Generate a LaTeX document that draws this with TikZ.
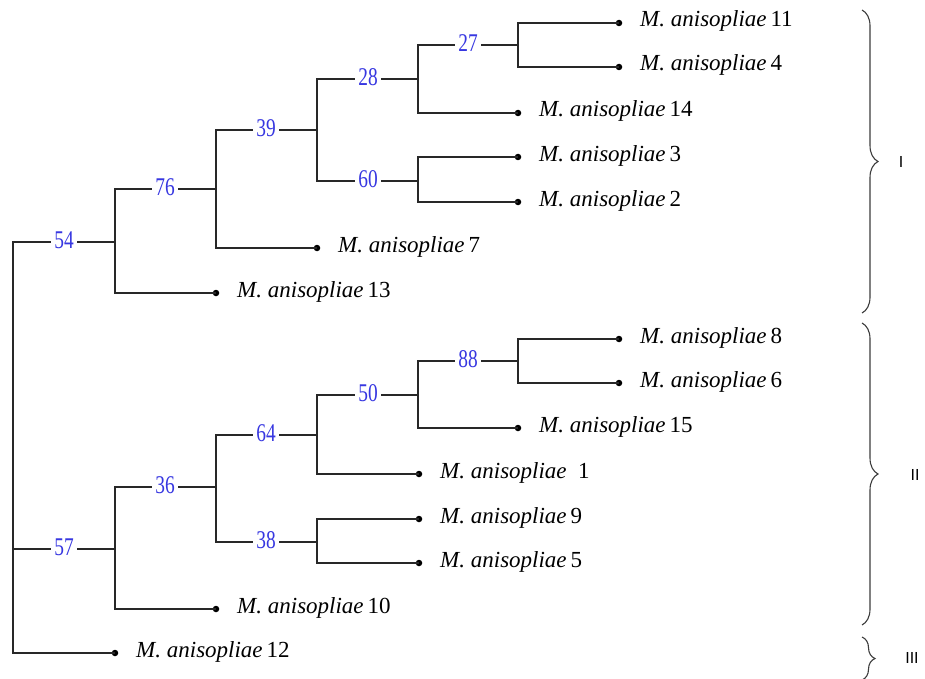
\documentclass[tikz,border=0pt]{standalone}
\usepackage{fontspec}
\setmainfont{Liberation Serif}
\newfontfamily\romfont{Liberation Sans}
\usetikzlibrary{decorations.pathreplacing}
\definecolor{treeline}{RGB}{40,40,40}
\definecolor{bootblue}{RGB}{55,55,225}
\definecolor{bracegray}{RGB}{60,60,60}
\newcommand\bootnum[1]{\scalebox{0.76}[1]{#1}}
\newcommand\leaftext[1]{\textit{M. anisopliae}\,#1}
\begin{document}
\begin{tikzpicture}[x=1pt,y=-1pt,
  branch/.style={draw=treeline, line width=1.8pt},
  tipdot/.style={circle, fill=black, inner sep=0pt, minimum size=6.5pt},
  leaflabel/.style={anchor=base west, inner sep=0pt, font=\fontsize{23}{27}\selectfont},
  boot/.style={fill=white, text=bootblue, inner xsep=3pt, inner ysep=1pt, font=\fontsize{25.5}{28}\selectfont},
  clade/.style={draw=bracegray, line width=1.1pt, decorate, decoration={brace, amplitude=#1}},
  cladelabel/.style={font=\romfont\fontsize{16}{18}\selectfont, text=black}
]
\useasboundingbox (0,0) rectangle (925,679);

% internal nodes
\coordinate (root) at (13,447);
\coordinate (n54) at (115,242);
\coordinate (n76) at (216,189);
\coordinate (n39) at (317,130);
\coordinate (n28) at (418,79);
\coordinate (n27) at (518,45);
\coordinate (n60) at (418,181);
\coordinate (n57) at (115,549);
\coordinate (n36) at (216,487);
\coordinate (n64) at (317,435);
\coordinate (n50) at (418,395);
\coordinate (n88) at (518,361);
\coordinate (n38) at (317,542);

% leaves
\node[tipdot] (l11) at (619,23) {};
\node[tipdot] (l4)  at (619,67) {};
\node[tipdot] (l14) at (518,113) {};
\node[tipdot] (l3)  at (518,157) {};
\node[tipdot] (l2)  at (518,202) {};
\node[tipdot] (l7)  at (317,248) {};
\node[tipdot] (l13) at (216,293) {};
\node[tipdot] (l8)  at (619,339) {};
\node[tipdot] (l6)  at (619,383) {};
\node[tipdot] (l15) at (518,428) {};
\node[tipdot] (l1)  at (419,474) {};
\node[tipdot] (l9)  at (419,519) {};
\node[tipdot] (l5)  at (419,563) {};
\node[tipdot] (l10) at (216,609) {};
\node[tipdot] (l12) at (115,653) {};

% branches
\draw[branch] (root) |- (n54);
\draw[branch] (root) |- (n57);
\draw[branch] (root) |- (l12.center);
\draw[branch] (n54) |- (n76);
\draw[branch] (n54) |- (l13.center);
\draw[branch] (n76) |- (n39);
\draw[branch] (n76) |- (l7.center);
\draw[branch] (n39) |- (n28);
\draw[branch] (n39) |- (n60);
\draw[branch] (n28) |- (n27);
\draw[branch] (n28) |- (l14.center);
\draw[branch] (n27) |- (l11.center);
\draw[branch] (n27) |- (l4.center);
\draw[branch] (n60) |- (l3.center);
\draw[branch] (n60) |- (l2.center);
\draw[branch] (n57) |- (n36);
\draw[branch] (n57) |- (l10.center);
\draw[branch] (n36) |- (n64);
\draw[branch] (n36) |- (n38);
\draw[branch] (n64) |- (n50);
\draw[branch] (n64) |- (l1.center);
\draw[branch] (n50) |- (n88);
\draw[branch] (n50) |- (l15.center);
\draw[branch] (n88) |- (l8.center);
\draw[branch] (n88) |- (l6.center);
\draw[branch] (n38) |- (l9.center);
\draw[branch] (n38) |- (l5.center);

% bootstrap values
\node[boot] (b54) at (64,240) {\bootnum{54}};
\node[boot] (b76) at (165,187) {\bootnum{76}};
\node[boot] (b39) at (266,128) {\bootnum{39}};
\node[boot] (b28) at (368,77) {\bootnum{28}};
\node[boot] (b27) at (468,43) {\bootnum{27}};
\node[boot] (b60) at (368,179) {\bootnum{60}};
\node[boot] (b57) at (64,547) {\bootnum{57}};
\node[boot] (b36) at (165,485) {\bootnum{36}};
\node[boot] (b64) at (266,433) {\bootnum{64}};
\node[boot] (b50) at (368,393) {\bootnum{50}};
\node[boot] (b88) at (468,359) {\bootnum{88}};
\node[boot] (b38) at (266,540) {\bootnum{38}};

% leaf labels
\node[leaflabel] (t11) at (640,27) {\leaftext{11}};
\node[leaflabel] (t4)  at (640,71) {\leaftext{4}};
\node[leaflabel] (t14) at (539,117) {\leaftext{14}};
\node[leaflabel] (t3)  at (539,161) {\leaftext{3}};
\node[leaflabel] (t2)  at (539,206) {\leaftext{2}};
\node[leaflabel] (t7)  at (338,252) {\leaftext{7}};
\node[leaflabel] (t13) at (237,297) {\leaftext{13}};
\node[leaflabel] (t8)  at (640,343) {\leaftext{8}};
\node[leaflabel] (t6)  at (640,387) {\leaftext{6}};
\node[leaflabel] (t15) at (539,432) {\leaftext{15}};
\node[leaflabel] (t1)  at (440,478) {\textit{M. anisopliae}\ \ 1};
\node[leaflabel] (t9)  at (440,523) {\leaftext{9}};
\node[leaflabel] (t5)  at (440,567) {\leaftext{5}};
\node[leaflabel] (t10) at (237,613) {\leaftext{10}};
\node[leaflabel] (t12) at (136,657) {\leaftext{12}};

% clade braces
\coordinate (cIa) at (862,10);
\coordinate (cIb) at (862,313);
\coordinate (cIIa) at (862,323);
\coordinate (cIIb) at (862,625);
\coordinate (cIIIa) at (862,637);
\coordinate (cIIIb) at (862,680);
\draw[clade=16pt] (cIa) -- (cIb);
\draw[clade=16pt] (cIIa) -- (cIIb);
\draw[clade=13pt] (cIIIa) -- (cIIIb);
\node[cladelabel] (gI) at (901,162) {I};
\node[cladelabel] (gII) at (915,475) {II};
\node[cladelabel] (gIII) at (912,658) {III};
\end{tikzpicture}
\end{document}
